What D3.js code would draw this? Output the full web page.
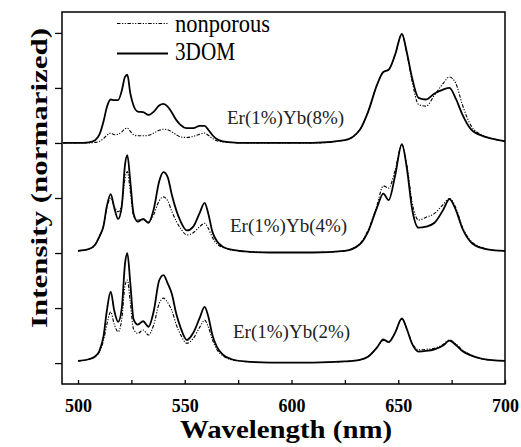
<!DOCTYPE html>
<html>
<head>
<meta charset="utf-8">
<script src="https://cdn.jsdelivr.net/npm/d3@7/dist/d3.min.js"></script>
<style>
  html, body { margin: 0; padding: 0; background: #fff; }
</style>
</head>
<body>
<div id="container"></div>
<script>
// Er/Yb upconversion spectra — 3DOM vs nonporous, stacked by Yb content

// ---------------------------------------------------------------------------
// Data (intensity in normalised units above each baseline)
// ---------------------------------------------------------------------------
const wavelengths = [493, 500, 505, 508, 510, 512, 513.5, 515.3, 517, 518.8, 520.5, 522, 523.1, 524.5,
  526, 528, 530.5, 533, 535.5, 538, 540, 542, 544, 546, 548, 551, 554, 557, 559.3, 561, 563, 565, 568,
  572, 578, 590, 610, 625, 632, 636, 640, 643, 645.5, 648.5, 651.7, 654, 656.5, 659.5, 663, 667, 671,
  674, 677, 680, 684, 690, 695, 700];

const samples = ['Er(1%)Yb(8%)', 'Er(1%)Yb(4%)', 'Er(1%)Yb(2%)'];
const offsets = [4, 2, 0];

const dom8 = [0, 0, 0.01, 0.05, 0.15, 0.4, 0.65, 0.79, 0.78, 0.78, 0.95, 1.2, 1.24, 0.9,
  0.68, 0.57, 0.56, 0.51, 0.57, 0.68, 0.71, 0.66, 0.55, 0.42, 0.33, 0.27, 0.27, 0.31, 0.31, 0.24, 0.14, 0.07, 0.03,
  0.01, 0, 0, 0, 0.05, 0.24, 0.58, 1.05, 1.29, 1.33, 1.6, 1.98, 1.65, 1.18, 0.82, 0.79, 0.9, 0.97,
  1.0, 0.8, 0.52, 0.25, 0.12, 0.07, 0.03];
const non8 = [0, 0, 0, 0.01, 0.03, 0.08, 0.14, 0.18, 0.15, 0.16, 0.2, 0.26, 0.27, 0.21,
  0.15, 0.13, 0.13, 0.14, 0.18, 0.23, 0.25, 0.24, 0.2, 0.15, 0.11, 0.1, 0.12, 0.16, 0.18, 0.14, 0.08, 0.04, 0.02,
  0.01, 0, 0, 0, 0.05, 0.24, 0.58, 1.05, 1.29, 1.33, 1.6, 1.98, 1.63, 1.12, 0.7, 0.67, 0.87, 1.08,
  1.2, 1.08, 0.7, 0.32, 0.13, 0.07, 0.03];

const dom4 = [null, 0.04, 0.07, 0.15, 0.3, 0.5, 0.85, 1.07, 0.82, 0.62, 0.85, 1.6, 1.78, 1.3,
  0.72, 0.57, 0.62, 0.55, 0.8, 1.3, 1.47, 1.38, 1.05, 0.78, 0.58, 0.41, 0.48, 0.73, 0.91, 0.72, 0.38, 0.22, 0.11,
  0.06, 0.03, 0.01, 0.01, 0.04, 0.16, 0.4, 0.82, 1.08, 0.96, 1.4, 1.98, 1.55, 0.8, 0.46, 0.48, 0.55, 0.78,
  0.98, 0.78, 0.45, 0.2, 0.08, 0.05, 0.04];
const non4 = [null, 0.04, 0.07, 0.15, 0.3, 0.5, 0.82, 1.0, 0.85, 0.75, 0.88, 1.35, 1.48, 1.12,
  0.68, 0.6, 0.6, 0.56, 0.7, 0.95, 1.02, 0.95, 0.75, 0.58, 0.45, 0.33, 0.37, 0.48, 0.54, 0.45, 0.28, 0.17, 0.1,
  0.06, 0.03, 0.01, 0.01, 0.04, 0.17, 0.43, 0.86, 1.22, 1.18, 1.5, 1.97, 1.6, 0.92, 0.6, 0.65, 0.72, 0.88,
  0.99, 0.82, 0.48, 0.22, 0.09, 0.05, 0.04];

const dom2 = [null, 0.04, 0.07, 0.12, 0.22, 0.5, 0.95, 1.3, 0.95, 0.75, 1.0, 1.8, 2.0, 1.45,
  0.8, 0.7, 0.76, 0.66, 0.95, 1.5, 1.6, 1.45, 1.25, 0.9, 0.65, 0.42, 0.55, 0.82, 1.02, 0.85, 0.5, 0.3, 0.15,
  0.07, 0.03, 0.01, 0.01, 0.03, 0.06, 0.12, 0.28, 0.43, 0.38, 0.55, 0.81, 0.62, 0.35, 0.21, 0.22, 0.25, 0.32,
  0.41, 0.33, 0.22, 0.14, 0.07, 0.05, 0.04];
const non2 = [null, 0.04, 0.07, 0.12, 0.2, 0.42, 0.7, 0.93, 0.7, 0.57, 0.8, 1.4, 1.51, 1.1,
  0.62, 0.54, 0.6, 0.51, 0.7, 1.08, 1.18, 1.1, 0.95, 0.7, 0.52, 0.36, 0.45, 0.65, 0.78, 0.66, 0.42, 0.25, 0.13,
  0.06, 0.03, 0.01, 0.01, 0.03, 0.06, 0.12, 0.28, 0.41, 0.4, 0.55, 0.8, 0.62, 0.37, 0.24, 0.25, 0.27, 0.34,
  0.42, 0.35, 0.24, 0.15, 0.07, 0.05, 0.04];

const domSeries = [dom8, dom4, dom2];
const nonSeries = [non8, non4, non2];

const xTicks = [500, 525, 550, 575, 600, 625, 650, 675, 700];
const yTicks = [0, 1, 2, 3, 4, 5, 6];

// ---------------------------------------------------------------------------
// Layout
// ---------------------------------------------------------------------------
const W = 521, H = 447;
const plot = { left: 62, right: 505, top: 12, bottom: 384 };
const serif = '"Liberation Serif", "Times New Roman", Times, serif';
const dashNonporous = '3.5,1.5,1.2,1.5,1.2,1.5';

const svg = d3.select('#container').append('svg')
  .attr('width', W).attr('height', H)
  .style('display', 'block');

const x = d3.scaleLinear().domain([492.5, 700]).range([plot.left, plot.right]);
const y = d3.scaleLinear().domain([-0.38, 6.38]).range([plot.bottom, plot.top]);

// ── Axes ───────────────────────────────────────────────────────────────
const xAxis = svg.append('g')
  .attr('transform', `translate(0,${plot.bottom})`)
  .call(d3.axisBottom(x).tickValues(xTicks).tickSize(-4).tickPadding(15)
    .tickFormat(d => (d % 50 === 0 ? d : '')));
xAxis.select('.domain').remove();
xAxis.selectAll('line').attr('stroke', '#000').attr('stroke-width', 1.3);
xAxis.selectAll('text')
  .attr('font-family', serif).attr('font-size', 18).attr('font-weight', 'bold').attr('fill', '#000');

const yAxis = svg.append('g')
  .attr('transform', `translate(${plot.left},0)`)
  .call(d3.axisLeft(y).tickValues(yTicks).tickSize(7).tickFormat(''));
yAxis.select('.domain').remove();
yAxis.selectAll('line').attr('stroke', '#000').attr('stroke-width', 1.3);

// ── Spectra ────────────────────────────────────────────────────────────
function drawSpectrum(values, offset, dash, width) {
  const pts = wavelengths.map((w, i) => [w, values[i]]);
  const line = d3.line()
    .defined(d => d[1] !== null)
    .x(d => x(d[0]))
    .y(d => y(d[1] + offset))
    .curve(d3.curveMonotoneX);
  svg.append('path')
    .datum(pts)
    .attr('d', line)
    .attr('fill', 'none')
    .attr('stroke', '#000')
    .attr('stroke-width', width)
    .attr('stroke-linejoin', 'round')
    .attr('stroke-dasharray', dash);
}

samples.forEach((name, i) => {
  drawSpectrum(domSeries[i], offsets[i], null, 1.8);
  drawSpectrum(nonSeries[i], offsets[i], dashNonporous, 1.1);
});

// sample labels
const labelPos = [[227, 124], [230, 232], [233, 338]];
samples.forEach((name, i) => {
  svg.append('text')
    .attr('x', labelPos[i][0]).attr('y', labelPos[i][1])
    .attr('font-family', serif).attr('font-size', 19).attr('fill', '#222')
    .text(name);
});

// ── Frame ──────────────────────────────────────────────────────────────
svg.append('rect')
  .attr('x', plot.left).attr('y', plot.top)
  .attr('width', plot.right - plot.left).attr('height', plot.bottom - plot.top)
  .attr('fill', 'none').attr('stroke', '#000').attr('stroke-width', 1.5);

// ── Legend ─────────────────────────────────────────────────────────────
const legend = [
  { label: 'nonporous', dash: dashNonporous, width: 1.1, ly: 23.5, ty: 32, len: 95 },
  { label: '3DOM', dash: null, width: 1.8, ly: 53.5, ty: 60, len: 60 },
];
legend.forEach(d => {
  svg.append('line')
    .attr('x1', 117).attr('x2', 168).attr('y1', d.ly).attr('y2', d.ly)
    .attr('stroke', '#000').attr('stroke-width', d.width).attr('stroke-dasharray', d.dash);
  svg.append('text')
    .attr('x', 175).attr('y', d.ty)
    .attr('font-family', serif).attr('font-size', 25).attr('fill', '#000')
    .attr('textLength', d.len).attr('lengthAdjust', 'spacingAndGlyphs')
    .text(d.label);
});

// ── Axis titles ────────────────────────────────────────────────────────
svg.append('text')
  .attr('x', 286).attr('y', 438)
  .attr('text-anchor', 'middle')
  .attr('font-family', serif).attr('font-size', 25).attr('font-weight', 'bold')
  .attr('textLength', 212).attr('lengthAdjust', 'spacingAndGlyphs')
  .text('Wavelength (nm)');

svg.append('text')
  .attr('transform', 'translate(47,178) rotate(-90)')
  .attr('text-anchor', 'middle')
  .attr('font-family', serif).attr('font-size', 24).attr('font-weight', 'bold')
  .attr('textLength', 300).attr('lengthAdjust', 'spacingAndGlyphs')
  .text('Intensity (normarized)');
</script>
</body>
</html>
